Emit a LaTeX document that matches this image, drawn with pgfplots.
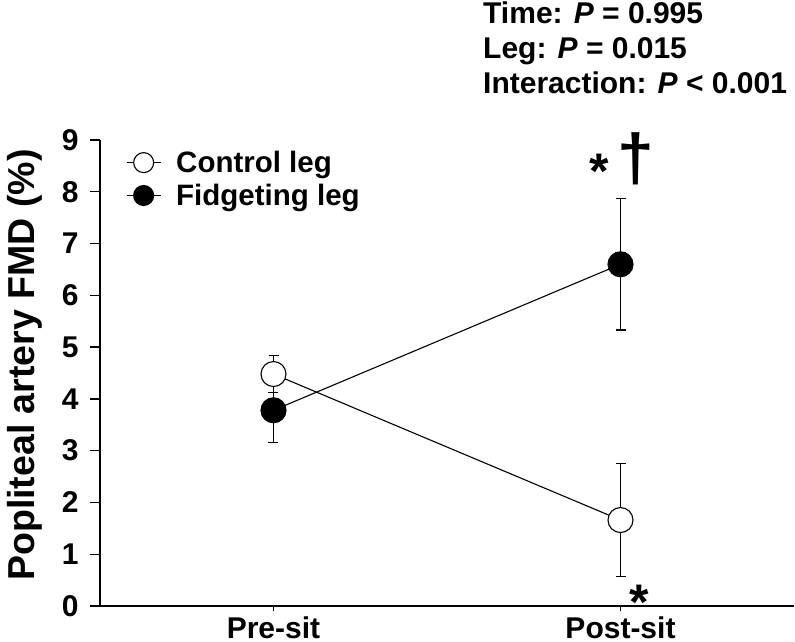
\documentclass[border=0pt]{standalone}
\usepackage{fontspec}
\setmainfont{Liberation Sans}
\usepackage{pgfplots}
\pgfplotsset{compat=1.18}
\begin{document}
\begin{tikzpicture}
\begin{axis}[
  scale only axis,
  width=694pt, height=466pt,
  xmin=-0.5, xmax=1.5, ymin=0, ymax=9,
  axis x line=bottom, axis y line=left,
  axis line style={-, line width=1.3pt},
  xtick={0,1}, xticklabels={Pre-sit,Post-sit},
  ytick={0,1,...,9},
  tick align=outside,
  major tick length=10pt,
  xtick style={/pgfplots/major tick length=5pt},
  tick style={line width=1.3pt, black},
  /pgf/number format/assume math mode=true,
  tick label style={font=\fontsize{30}{32}\selectfont\bfseries},
  yticklabel style={xshift=-8pt},
  xticklabel style={yshift=3pt, text depth=0pt},
  ylabel={Popliteal artery FMD (\%)},
  ylabel style={font=\fontsize{37.5}{40}\selectfont\bfseries, at={(axis description cs:-0.108,0.517)}, anchor=center},
  legend style={draw=none, fill=none, at={(axis description cs:0.033,0.985)}, anchor=north west,
    font=\fontsize{29.5}{33}\selectfont\bfseries, row sep=6pt,
    nodes={inner sep=2pt},
    /tikz/every odd column/.style={column sep=13pt}},
  legend cell align=left,
  reverse legend,
  legend image code/.code={\draw[mark size=10pt, mark repeat=2, mark phase=2] plot coordinates {(0pt,0pt) (17pt,0pt) (34pt,0pt)};},
  clip=false,
]
\addplot[black, line width=1.1pt, mark=*, mark size=12.5pt,
  mark options={fill=black, line width=1.1pt},
  error bars/.cd, y dir=both, y explicit,
  error bar style={line width=1.1pt, black},
  error mark options={rotate=90, mark size=5pt, line width=1.1pt, black}]
  coordinates {(0,3.78) +- (0,0.62) (1,6.60) +- (0,1.27)};
\addplot[black, line width=1.1pt, mark=*, mark size=12.5pt,
  mark options={fill=white, line width=1.1pt},
  error bars/.cd, y dir=both, y explicit,
  error bar style={line width=1.1pt, black},
  error mark options={rotate=90, mark size=5pt, line width=1.1pt, black}]
  coordinates {(0,4.48) +- (0,0.36) (1,1.66) +- (0,1.09)};
\legend{Fidgeting leg, Control leg}
\node[inner sep=0pt, font=\fontsize{50}{50}\selectfont\bfseries] at (axis cs:0.94,8.40) {*};
\node[inner sep=0pt, font=\fontsize{66}{66}\selectfont\bfseries] at (axis cs:1.043,8.64) {†};
\node[inner sep=0pt, font=\fontsize{50}{50}\selectfont\bfseries] at (axis cs:1.055,0.07) {*};
\end{axis}
\node[anchor=north west, align=left, inner sep=0pt, font=\fontsize{30}{35}\selectfont\bfseries] at (383pt,604pt)
  {Time: \textit{P} = 0.995\\Leg: \textit{P} = 0.015\\Interaction: \textit{P} < 0.001};
\pgfresetboundingbox
\useasboundingbox (-100pt,-36pt) rectangle (695pt,606pt);
\end{tikzpicture}
\end{document}
